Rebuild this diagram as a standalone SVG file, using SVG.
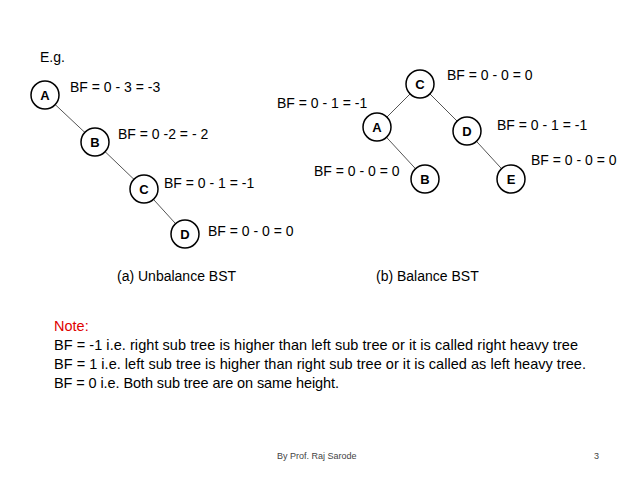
<svg xmlns="http://www.w3.org/2000/svg" width="638" height="478" viewBox="0 0 638 478">
<style>
text{font-family:"Liberation Sans",Arial,sans-serif;font-size:14px;fill:#000}
.n{fill:#fff;stroke:#000;stroke-width:1.5}
.l{font-weight:bold;text-anchor:middle;font-size:13px}
.c line{stroke:#555;stroke-width:1}
.s{font-size:9px;fill:#444}
.t{font-size:14.5px}
</style>
<rect width="638" height="478" fill="#fff"/>
<text x="40" y="62">E.g.</text>
<g class="c">
<line x1="45" y1="95" x2="95" y2="142"/><line x1="95" y1="142" x2="144" y2="189"/><line x1="144" y1="189" x2="185" y2="234"/>
<line x1="420" y1="84" x2="377" y2="127"/><line x1="420" y1="84" x2="467" y2="131"/><line x1="377" y1="127" x2="425" y2="179"/><line x1="467" y1="131" x2="511" y2="179"/>
</g>
<g id="uA"><circle class="n" cx="45" cy="95" r="14"/><text class="l" x="45" y="100">A</text></g>
<g id="uB"><circle class="n" cx="95" cy="142" r="14"/><text class="l" x="95" y="147">B</text></g>
<g id="uC"><circle class="n" cx="144" cy="189" r="14"/><text class="l" x="144" y="194">C</text></g>
<g id="uD"><circle class="n" cx="185" cy="234" r="14"/><text class="l" x="185" y="239">D</text></g>
<g id="bC"><circle class="n" cx="420" cy="84" r="14"/><text class="l" x="420" y="89">C</text></g>
<g id="bA"><circle class="n" cx="377" cy="127" r="14"/><text class="l" x="377" y="132">A</text></g>
<g id="bD"><circle class="n" cx="467" cy="131" r="14"/><text class="l" x="467" y="136">D</text></g>
<g id="bB"><circle class="n" cx="425" cy="179" r="14"/><text class="l" x="425" y="184">B</text></g>
<g id="bE"><circle class="n" cx="511" cy="179" r="14"/><text class="l" x="511" y="184">E</text></g>
<text x="70" y="92">BF = 0 - 3 = -3</text>
<text x="118" y="139">BF = 0 -2 = - 2</text>
<text x="164" y="188">BF = 0 - 1 = -1</text>
<text x="208" y="236">BF = 0 - 0 = 0</text>
<text x="447" y="80">BF = 0 - 0 = 0</text>
<text x="277" y="108">BF = 0 - 1 = -1</text>
<text x="497" y="130">BF = 0 - 1 = -1</text>
<text x="531" y="165">BF = 0 - 0 = 0</text>
<text x="314" y="176">BF = 0 - 0 = 0</text>
<text x="117" y="281">(a) Unbalance BST</text>
<text x="376" y="281">(b) Balance BST</text>
<text class="t" x="54" y="331" style="fill:#e00000">Note:</text>
<text class="t" x="54" y="350" textLength="524">BF = -1 i.e. right sub tree is higher than left sub tree or it is called right heavy tree</text>
<text class="t" x="54" y="369" textLength="532">BF = 1 i.e. left sub tree is higher than right sub tree or it is called as left heavy tree.</text>
<text class="t" x="54" y="388" textLength="285">BF = 0 i.e. Both sub tree are on same height.</text>
<text class="s" x="277" y="459">By Prof. Raj Sarode</text>
<text class="s" x="594" y="459">3</text>
</svg>
